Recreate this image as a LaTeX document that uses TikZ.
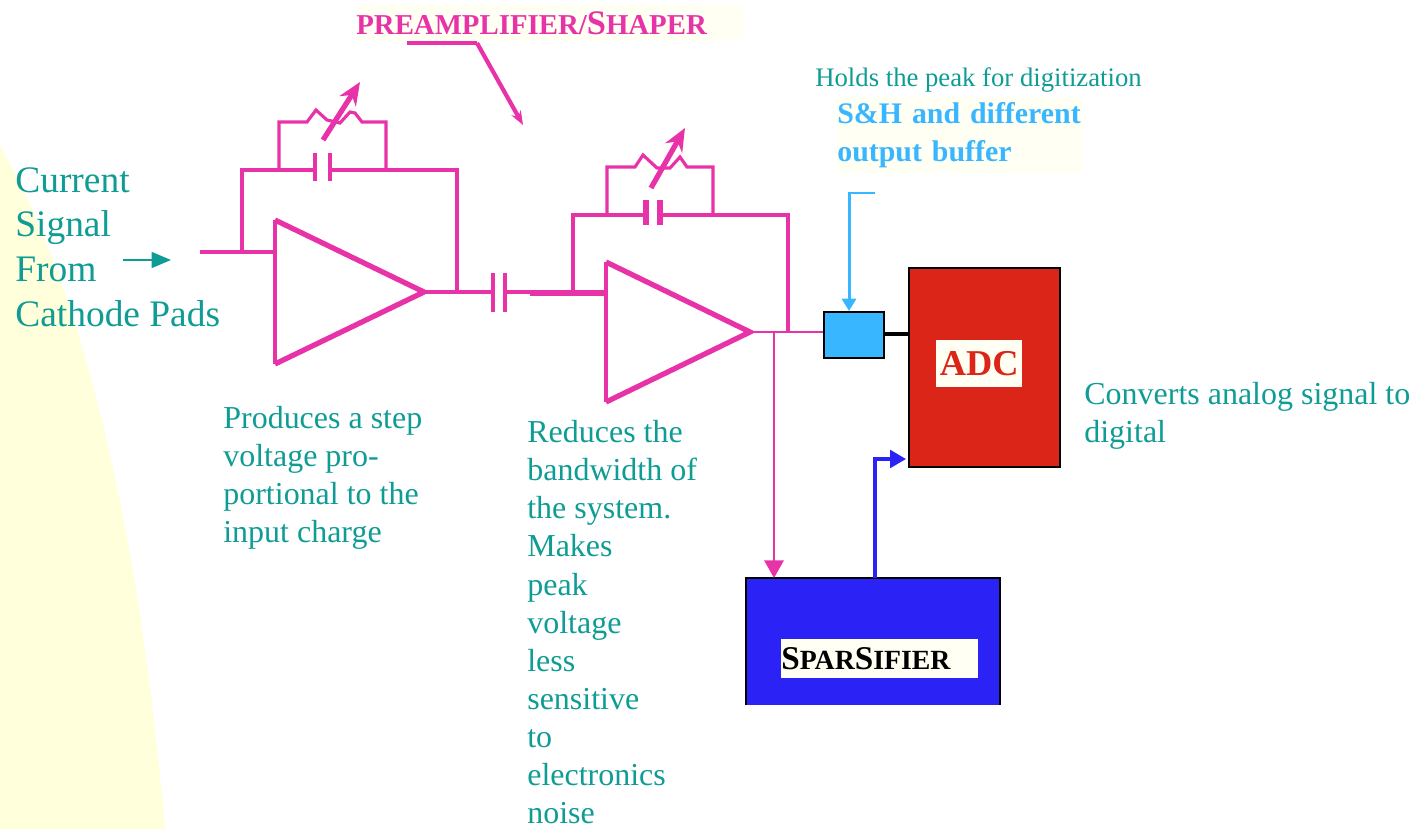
\documentclass[tikz,border=0pt]{standalone}
\usepackage{fontspec}
\usepackage{xcolor}
\usepackage{tikz}
\usetikzlibrary{arrows.meta, positioning}
\setmainfont{Liberation Serif}
\definecolor{teal1}{HTML}{0E9C94}
\definecolor{pink1}{HTML}{E833A8}
\definecolor{sky1}{HTML}{38B6FF}
\definecolor{red1}{HTML}{DA2518}
\definecolor{blue1}{HTML}{2B22F5}
\definecolor{cream}{HTML}{FFFFF4}
\definecolor{pale}{HTML}{FFFFDC}
\tikzset{
  wire/.style={pink1, line width=1.8pt, line join=miter},
  wirethin/.style={pink1, line width=1.2pt},
  wirethick/.style={pink1, line width=3pt, line join=miter},
  note/.style={text=teal1, anchor=north west, inner sep=0pt, align=left, font=\fontsize{18.2}{21.7}\selectfont},
  bigtext/.style={note, font=\fontsize{21.3}{25.5}\selectfont},
  tag/.style={fill=cream, inner sep=0pt, anchor=north west},
  unit/.style={draw=black, line width=1.3pt, inner sep=0pt, anchor=north west},
}
\begin{document}
\begin{tikzpicture}[x=0.02cm, y=-0.02cm, >=Stealth]
  \useasboundingbox (0,0) rectangle (1427,829);
  % Background
  \fill[pale] (0,145) .. controls (70,270) and (135,480) .. (165,829) -- (0,829) -- cycle;

  % Texts
  \node[bigtext] (source) at (15,167) {Current\\Signal\\From\\Cathode Pads};
  \node[note] (stepnote) at (223,406) {Produces a step\\voltage pro-\\portional to the\\input charge};
  \node[note] (bandnote) at (527,420) {Reduces the\\bandwidth of\\the system.\\Makes\\peak\\voltage\\less\\sensitive\\to\\electronics\\noise};
  \node[note] (adcnote) at (1084,382) {Converts analog signal to\\digital};
  \node[note, font=\fontsize{15.2}{18}\selectfont] (holdnote) at (815,67) {Holds the peak for digitization};
  \coordinate (srcA) at (123,260);
  \coordinate (srcB) at (171,260);
  \draw[-{Triangle[length=11pt,width=9pt]}, teal1, line width=1pt] (srcA) -- (srcB);

  % Preamplifier
  \coordinate (inA) at (200,252);
  \coordinate (ampAtop) at (275,220);
  \coordinate (ampAbot) at (275,364);
  \coordinate (ampAtip) at (424,292);
  \draw[wire] (inA) -- (ampAtop |- inA);
  \draw[wire] (ampAbot) -- (ampAtop);
  \draw[wirethick] (ampAtop) -- (ampAtip) -- (ampAbot);
  \coordinate (fbAleft) at (242,252);
  \coordinate (fbAright) at (457,292);
  \draw[wire, line width=2.4pt] (fbAleft) |- (315,170);
  \draw[wire, line width=2.4pt] (330,170) -| (fbAright);
  \draw[wire] (315,153) -- (315,181);
  \draw[wire] (330,153) -- (330,181);
  \draw[wire] (279,170) |- (307,122) -- (316,110) -- (327,120) -- (340,123) -- (350,112)
    -- (355,113) -- (362,122) -| (386,170);
  \draw[-{Stealth[length=13pt,width=11pt]}, wirethick] (323,140) -- (360,82);

  % Coupling capacitor
  \coordinate (capL) at (493,292);
  \coordinate (capR) at (505,292);
  \draw[wire] (ampAtip) -- (capL);
  \draw[wire] (493,273) -- (493,312);
  \draw[wire] (505,273) -- (505,312);

  % Shaper
  \coordinate (ampBtop) at (606,262);
  \coordinate (ampBbot) at (606,402);
  \coordinate (ampBtip) at (750,332);
  \draw[wire] (capR) -- (ampBtop |- capR);
  \draw[wirethick] (530,293) -- (ampBtop |- 0,293);
  \draw[wire] (ampBbot) -- (ampBtop);
  \draw[wirethick] (ampBtop) -- (ampBtip) -- (ampBbot);
  \draw[wire, line width=2.4pt] (573,293) |- (646,215);
  \draw[wire, line width=2.4pt] (660,215) -| (788,332);
  \draw[wire, line width=3pt] (646,200) -- (646,225);
  \draw[wire, line width=3pt] (660,200) -- (660,225);
  \draw[wire] (607,215) |- (635,167) -- (643,155) -- (657,168) -- (670,168) -- (680,157)
    -- (687,167) -| (713,215);
  \draw[-{Stealth[length=13pt,width=11pt]}, wirethick] (651,188) -- (685,128);

  % Blocks
  \node[unit, fill=sky1, minimum width=1.2cm, minimum height=0.92cm] (buffer) at (823,311) {};
  \node[unit, fill=red1, minimum width=3.02cm, minimum height=3.98cm] (adc) at (908,267) {};
  \fill[blue1] (746,578) rectangle (1000,705);
  \coordinate (spTL) at (746,578);
  \coordinate (spTR) at (1000,578);
  \draw[line width=0.8pt] (746,705) -- (spTL) -- (spTR) -- (1000,705);

  % Labels
  \node[tag, text=pink1, minimum height=0.74cm, text width=7.74cm, align=left, font=\bfseries\fontsize{16.4}{17}\selectfont] (title) at (356,4)
    {PREAMPLIFIER/{\fontsize{19.6}{17}\selectfont S}HAPER};
  \node[tag, text=sky1, text width=4.92cm, align=left, font=\bfseries\fontsize{17}{21.7}\selectfont, minimum height=1.52cm] (bufferlabel) at (837,97)
    {S\&H and different\\output buffer};
  \node[tag, text=red1, minimum width=1.72cm, minimum height=0.94cm, font=\bfseries\fontsize{20.7}{17}\selectfont] (adclabel) at (936,340) {ADC};
  \node[tag, text=black, minimum height=0.78cm, text width=3.94cm, align=left, font=\bfseries\fontsize{15.8}{15}\selectfont] (splabel) at (781,639)
    {{\fontsize{18.9}{15}\selectfont S}PAR{\fontsize{18.9}{15}\selectfont S}IFIER};

  % Connections
  \coordinate (preA) at (407,43);
  \coordinate (preB) at (477,43);
  \coordinate (preC) at (523,125);
  \draw[wire] (preA) -- (preB);
  \draw[-{Stealth[length=8pt,width=6pt]}, wire, line width=2.4pt] (preB) -- (preC);
  \coordinate (skyA) at (875,193);
  \coordinate (skyB) at (849,193);
  \draw[-{Triangle[length=7pt,width=8pt]}, sky1, line width=1.7pt] (skyA) -- (skyB) -- (skyB |- buffer.north);
  \draw[wirethin, line width=1.5pt] (ampBtip) -- (buffer.west |- ampBtip);
  \draw[black, line width=1.8pt] (buffer.east |- 0,334) -- (adc.west |- 0,334);
  \coordinate (tap) at (774,332);
  \draw[-{Triangle[length=10pt,width=11pt]}, wirethin] (tap) -- (tap |- spTL);
  \coordinate (blueA) at (875,578);
  \draw[-{Triangle[length=9pt,width=10pt]}, blue1, line width=1.8pt] (blueA) |- (906,459);
\end{tikzpicture}
\end{document}
